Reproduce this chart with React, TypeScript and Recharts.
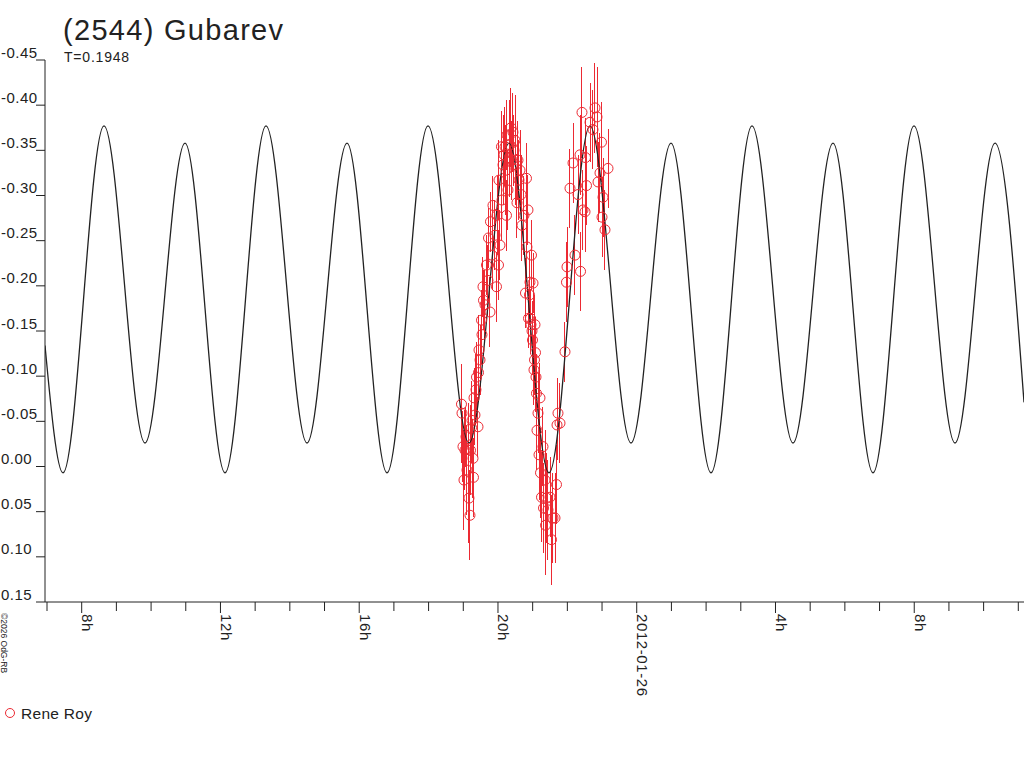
import React from 'react';
import { ComposedChart, Line, Scatter, XAxis, YAxis } from 'recharts';

// Fitted lightcurve (hours since 2012-01-25 00:00 UT, relative magnitude)
const fitTimes = [6.942, 7.461, 8.643, 9.825, 10.978, 12.131, 13.313, 14.495, 15.648, 16.801, 17.983, 19.165, 20.318, 21.471, 22.653, 23.835, 24.988, 26.141, 27.323, 28.505, 29.658, 30.811, 31.993, 33.175, 34.328, 35.164];
const fitMags = [-0.134, 0.007, -0.377, -0.026, -0.358, 0.007, -0.377, -0.026, -0.358, 0.007, -0.377, -0.026, -0.358, 0.007, -0.377, -0.026, -0.358, 0.007, -0.377, -0.026, -0.358, 0.007, -0.377, -0.026, -0.358, -0.071];

// Observations (Rene Roy)
const obsTimes = [
  18.948, 18.963, 18.991, 19.020, 19.049, 19.078, 19.107, 19.136, 19.164, 19.193, 19.208, 19.237, 19.251, 19.280, 19.294, 19.309, 19.337, 19.366, 19.381, 19.424,
  19.439, 19.453, 19.482, 19.525, 19.539, 19.568, 19.583, 19.626, 19.669, 19.712, 19.727, 19.770, 19.784, 19.828, 19.856, 19.914, 19.957, 19.972, 20.015, 20.029,
  20.058, 20.101, 20.116, 20.145, 20.173, 20.202, 20.231, 20.245, 20.260, 20.289, 20.318, 20.346, 20.375, 20.404, 20.433, 20.462, 20.491, 20.519, 20.548, 20.577,
  20.606, 20.635, 20.664, 20.692, 20.750, 20.793, 20.822, 20.836, 20.865, 20.880, 20.908, 20.923, 20.937, 20.952, 20.966, 20.981, 20.995, 21.010, 21.038, 21.053,
  21.067, 21.082, 21.096, 21.110, 21.125, 21.154, 21.183, 21.211, 21.226, 21.255, 21.298, 21.313, 21.356, 21.371, 21.399, 21.442, 21.500, 21.543, 21.586, 21.644,
  21.687, 21.702, 21.730, 21.788, 21.932, 21.975, 21.990, 22.076, 22.163, 22.220, 22.307, 22.365, 22.380, 22.422, 22.451, 22.509, 22.524, 22.552, 22.653, 22.739,
  22.797, 22.855, 22.884, 22.941, 22.984, 22.999, 23.028, 23.085, 23.172,
];
const obsMags = [
  -0.069, -0.059, -0.022, 0.015, -0.018, -0.033, 0.004, -0.020, 0.035, 0.054, -0.018, -0.043, -0.051, -0.009, 0.012, -0.076, -0.057, -0.085, -0.099, -0.044,
  -0.104, -0.129, -0.118, -0.162, -0.146, -0.199, -0.184, -0.179, -0.223, -0.206, -0.253, -0.171, -0.271, -0.234, -0.289, -0.256, -0.199, -0.278, -0.223, -0.317,
  -0.245, -0.354, -0.295, -0.334, -0.345, -0.354, -0.328, -0.278, -0.367, -0.306, -0.342, -0.356, -0.375, -0.339, -0.370, -0.350, -0.361, -0.334, -0.292, -0.339,
  -0.317, -0.328, -0.301, -0.267, -0.278, -0.192, -0.319, -0.243, -0.284, -0.164, -0.190, -0.204, -0.164, -0.157, -0.234, -0.150, -0.140, -0.203, -0.107, -0.118,
  -0.157, -0.126, -0.099, -0.081, -0.040, -0.059, -0.013, -0.076, 0.007, 0.034, -0.022, 0.046, 0.015, 0.065, 0.035, 0.048, 0.034, 0.081, 0.057, 0.057,
  0.020, -0.046, -0.059, -0.048, -0.127, -0.204, -0.221, -0.308, -0.336, -0.234, -0.301, -0.345, -0.216, -0.392, -0.284, -0.282, -0.342, -0.311, -0.381, -0.373,
  -0.397, -0.387, -0.315, -0.325, -0.359, -0.276, -0.298, -0.262, -0.330,
];
const obsErrs = [
  0.044, 0.055, 0.039, 0.055, 0.044, 0.033, 0.050, 0.050, 0.050, 0.050, 0.050, 0.039, 0.044, 0.044, 0.044, 0.033, 0.033, 0.039, 0.039, 0.033,
  0.033, 0.039, 0.039, 0.033, 0.033, 0.033, 0.033, 0.039, 0.033, 0.039, 0.033, 0.039, 0.033, 0.039, 0.033, 0.039, 0.039, 0.044, 0.039, 0.044,
  0.039, 0.039, 0.044, 0.044, 0.044, 0.044, 0.050, 0.039, 0.039, 0.044, 0.044, 0.050, 0.044, 0.044, 0.044, 0.039, 0.050, 0.044, 0.039, 0.044,
  0.044, 0.044, 0.044, 0.039, 0.044, 0.039, 0.039, 0.039, 0.039, 0.033, 0.033, 0.033, 0.033, 0.033, 0.039, 0.033, 0.039, 0.033, 0.039, 0.039,
  0.033, 0.039, 0.039, 0.044, 0.044, 0.044, 0.050, 0.039, 0.050, 0.050, 0.044, 0.050, 0.055, 0.055, 0.050, 0.055, 0.044, 0.050, 0.050, 0.050,
  0.044, 0.039, 0.039, 0.044, 0.033, 0.044, 0.044, 0.044, 0.044, 0.044, 0.044, 0.044, 0.044, 0.050, 0.044, 0.044, 0.044, 0.044, 0.044, 0.044,
  0.050, 0.055, 0.044, 0.044, 0.044, 0.044, 0.044, 0.044, 0.044,
];

const xMinorHours = [7, 8, 9, 10, 11, 12, 13, 14, 15, 16, 17, 18, 19, 20, 21, 22, 23, 24, 25, 26, 27, 28, 29, 30, 31, 32, 33, 34, 35];
const xMajorHours = [8, 12, 16, 20, 24, 28, 32];
const xMajorLabels = ['8h', '12h', '16h', '20h', '2012-01-26', '4h', '8h'];
const yTicks = [-0.45, -0.4, -0.35, -0.3, -0.25, -0.2, -0.15, -0.1, -0.05, 0, 0.05, 0.1, 0.15];
const yTickLabels = ['-0.45', '-0.40', '-0.35', '-0.30', '-0.25', '-0.20', '-0.15', '-0.10', '-0.05', '0.00', '0.05', '0.10', '0.15'];

const fitData = fitTimes.map((t, i) => ({ t, mag: fitMags[i] }));
const obsData = obsTimes.map((t, i) => ({ t, mag: obsMags[i] }));
// Error bars as broken vertical segments: (t, mag - err) -> (t, mag + err), then a gap
const errData: { t: number; v: number | null }[] = [];
obsTimes.forEach((t, i) => {
  errData.push({ t, v: obsMags[i] - obsErrs[i] });
  errData.push({ t, v: obsMags[i] + obsErrs[i] });
  errData.push({ t, v: null });
});

const FONT = '"Liberation Sans", Arial, sans-serif';
const INK = '#222';
const RED = '#ec2a33';

const XTick = (props: any) => {
  const { x, y, payload } = props;
  const idx = xMajorHours.indexOf(payload.value);
  const major = idx >= 0;
  return (
    <g>
      <line x1={x} x2={x} y1={y} y2={y + (major ? 11 : 9)} stroke={INK} strokeWidth={1} />
      {major && (
        <text transform={`translate(${x + 0.5},${y + 12}) rotate(90)`} fontSize={15} letterSpacing={0.6} fontFamily={FONT} fill={INK} textAnchor="start">
          {xMajorLabels[idx]}
        </text>
      )}
    </g>
  );
};

const YTick = (props: any) => {
  const { x, y, payload } = props;
  const idx = yTicks.findIndex((v) => Math.abs(v - payload.value) < 1e-9);
  return (
    <g>
      <line x1={x - 9} x2={x} y1={y} y2={y} stroke={INK} strokeWidth={1} />
      <text x={1} y={y - 2.5} fontSize={15} letterSpacing={0.5} fontFamily={FONT} fill={INK}>
        {idx >= 0 ? yTickLabels[idx] : ''}
      </text>
    </g>
  );
};

const Ring = (props: any) => {
  const { cx, cy } = props;
  if (cx == null || cy == null) return null;
  return <circle cx={cx} cy={cy} r={5} fill="none" stroke={RED} strokeWidth={1} />;
};

export default function App() {
  return (
    <div style={{ position: 'absolute', left: 0, top: 0, width: 1024, height: 768, background: '#fff', overflow: 'hidden' }}>
      <ComposedChart width={1024} height={768} margin={{ top: 60, right: 0, bottom: 0, left: 0 }}>
        <XAxis type="number" dataKey="t" domain={[6.942, 35.164]} allowDataOverflow ticks={xMinorHours} interval={0} height={166}
          tickSize={0} tickMargin={0} tickLine={false} axisLine={{ stroke: INK, strokeWidth: 1 }} tick={<XTick />} />
        <YAxis type="number" domain={[-0.45, 0.15]} reversed allowDataOverflow ticks={yTicks} interval={0} width={45}
          tickSize={0} tickMargin={0} tickLine={false} axisLine={{ stroke: INK, strokeWidth: 1 }} tick={<YTick />} />
        <Line
          data={errData}
          dataKey="v"
          type="linear"
          connectNulls={false}
          dot={false}
          activeDot={false}
          stroke={RED}
          strokeWidth={1}
          shapeRendering="crispEdges"
          legendType="none"
          isAnimationActive={false}
        />
        <Scatter data={obsData} dataKey="mag" shape={<Ring />} fill="none" stroke={RED} isAnimationActive={false} legendType="none" />
        <Line data={fitData} dataKey="mag" type="monotone" dot={false} activeDot={false} stroke={INK} strokeWidth={1.3} isAnimationActive={false} />
      </ComposedChart>
      <svg width={1024} height={768} style={{ position: 'absolute', left: 0, top: 0, pointerEvents: 'none' }} fontFamily={FONT}>
        <text x={63} y={40} fontSize={29} letterSpacing={1.3} fill={INK}>(2544) Gubarev</text>
        <text x={64} y={62} fontSize={14} letterSpacing={0.8} fill={INK}>T=0.1948</text>
        <text transform="translate(1,613) rotate(90)" fontSize={8.5} fill={INK}>©2026 OdG-RB</text>
        <circle cx={10} cy={713} r={4.5} fill="none" stroke={RED} strokeWidth={1} />
        <text x={21} y={719} fontSize={15.5} letterSpacing={0.3} fill={INK}>Rene Roy</text>
      </svg>
    </div>
  );
}
